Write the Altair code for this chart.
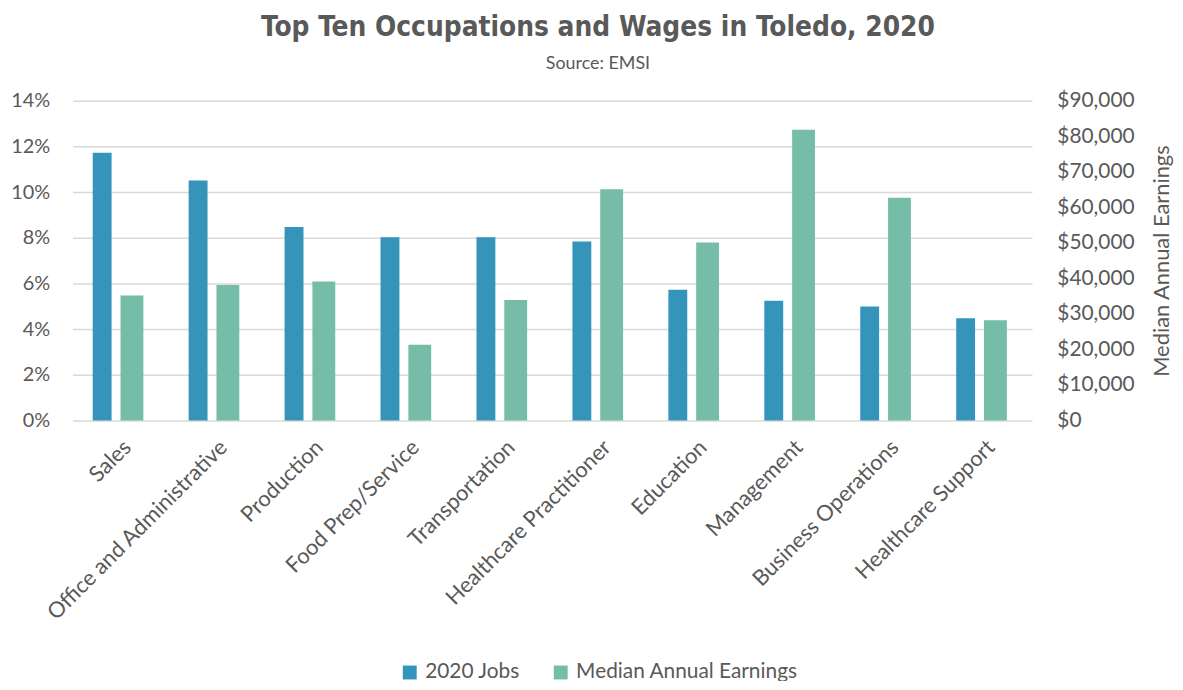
import altair as alt
import pandas as pd

categories = ["Sales", "Office and Administrative", "Production", "Food Prep/Service",
              "Transportation", "Healthcare Practitioner", "Education", "Management",
              "Business Operations", "Healthcare Support"]
jobs_share = [0.1172, 0.1051, 0.0847, 0.0802, 0.0802, 0.0783, 0.0572, 0.0524, 0.0499, 0.0447]
median_earnings = [35200, 38100, 39100, 21300, 33900, 65100, 50100, 81800, 62700, 28200]
series_names = ["2020 Jobs", "Median Annual Earnings"]
series_colors = ["#3494BA", "#75BDA7"]
pct_ticks = [0, 0.02, 0.04, 0.06, 0.08, 0.10, 0.12, 0.14]
usd_ticks = [0, 10000, 20000, 30000, 40000, 50000, 60000, 70000, 80000, 90000]

df = pd.DataFrame({"occ": categories, "jobs": jobs_share, "earn": median_earnings})

FONT = "Lato"
GREY = "#595959"

color_scale = alt.Scale(domain=series_names, range=series_colors)
legend = alt.Legend(
    orient="none", direction="horizontal", legendX=329, legendY=565, title=None,
    symbolType="square", symbolSize=196, symbolStrokeWidth=0,
    labelFont=FONT, labelFontSize=21, labelColor=GREY, labelOffset=5,
    columnPadding=30, labelLimit=400,
)

base = alt.Chart(df).encode(
    x=alt.X(
        "occ:N", sort=categories, title=None,
        scale=alt.Scale(paddingInner=0, paddingOuter=0),
        axis=alt.Axis(labelAngle=-45, labelFont=FONT, labelFontSize=22, labelColor=GREY,
                      labelPadding=16, ticks=False, domain=False, labelOverlap=False,
                      labelLimit=400, grid=False),
    )
)

blue = base.mark_bar(size=19, xOffset=-18.5).transform_calculate(
    series="'2020 Jobs'"
).encode(
    y=alt.Y("jobs:Q", title=None,
            scale=alt.Scale(domain=[0, 0.14], nice=False, zero=True),
            axis=alt.Axis(orient="left", values=pct_ticks, format=".0%", labelFont=FONT,
                          labelFontSize=20, labelColor=GREY, labelPadding=23, ticks=False,
                          domain=False, grid=True, gridColor="#D9D9D9", gridWidth=1.5)),
    color=alt.Color("series:N", scale=color_scale, legend=legend),
)

green = base.mark_bar(size=23, xOffset=11.5).transform_calculate(
    series="'Median Annual Earnings'"
).encode(
    y=alt.Y("earn:Q", title="Median Annual Earnings",
            scale=alt.Scale(domain=[0, 90000], nice=False, zero=True),
            axis=alt.Axis(orient="right", values=usd_ticks, format="$,.0f", labelFont=FONT,
                          labelFontSize=21, labelColor=GREY, labelPadding=25, ticks=False,
                          domain=False, grid=False, titleFont=FONT, titleFontSize=22,
                          titleFontWeight="normal", titleColor=GREY, titleAngle=270,
                          titlePadding=40)),
    color=alt.Color("series:N", scale=color_scale, legend=legend),
)

chart = alt.layer(blue, green).resolve_scale(y="independent").properties(
    width=966, height=322,
    title=alt.TitleParams(
        text="Top Ten Occupations and Wages in Toledo, 2020",
        subtitle="Source: EMSI",
        anchor="middle", dx=46, offset=17,
        font="DejaVu Sans Condensed, Liberation Sans Narrow, Roboto", fontSize=28,
        fontWeight="bold", color=GREY,
        subtitleFont=FONT, subtitleFontSize=18, subtitleColor=GREY, subtitlePadding=13,
    ),
    autosize=alt.AutoSizeParams(type="none"),
    padding={"left": 65, "top": 91, "right": 144, "bottom": 260},
).configure_view(stroke=None)

chart.save("out.html", embed_options={"renderer": "svg", "actions": False})
